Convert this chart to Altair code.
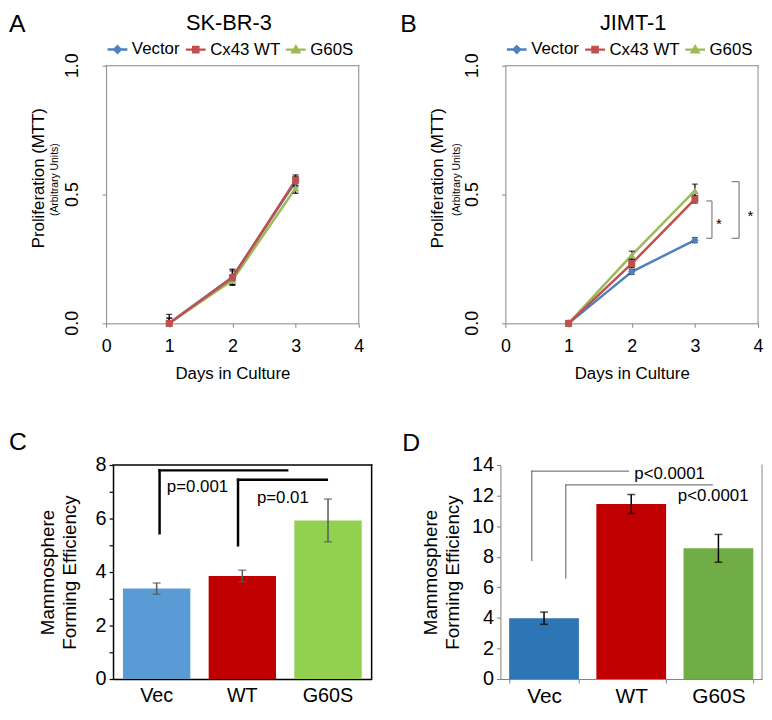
import altair as alt
import pandas as pd

FONT = "Liberation Sans"
GRAY = "#868686"

# ---------------- data ----------------
days = [1, 2, 3]
series = ["Vector", "Cx43 WT", "G60S"]
series_colors = ["#4F81BD", "#C0504D", "#9BBB59"]
marker_shapes = ["diamond", "square", "triangle-up"]
marker_sizes = [60, 50, 60]
legend_paths = [
    "M-1,0H1M0,-0.32L0.32,0L0,0.32L-0.32,0Z",
    "M-1,0H1M-0.26,-0.26H0.26V0.26H-0.26Z",
    "M-1,0H1M0,-0.32L0.34,0.26H-0.34Z",
]
draw_order = ["Vector", "G60S", "Cx43 WT"]
y_tick_values = [0.0, 0.5, 1.0]
y_tick_labels = ["0.0", "0.5", "1.0"]

# SK-BR-3 proliferation (MTT)
skbr3_vector = [0.0, 0.180, 0.550]
skbr3_wt = [0.0, 0.177, 0.556]
skbr3_g60s = [0.0, 0.167, 0.525]
skbr3_err_vector = [0.035, 0.030, 0.020]
skbr3_err_wt = [0.020, 0.027, 0.020]
skbr3_err_g60s = [0.020, 0.020, 0.020]

# JIMT-1 proliferation (MTT)
jimt_vector = [0.0, 0.200, 0.323]
jimt_wt = [0.0, 0.232, 0.482]
jimt_g60s = [0.0, 0.265, 0.515]
jimt_err_vector = [0.005, 0.010, 0.010]
jimt_err_wt = [0.005, 0.015, 0.015]
jimt_err_g60s = [0.005, 0.015, 0.025]

# JIMT-1 significance brackets
b_seg_x1 = [3.18, 3.27, 3.18, 3.58, 3.70, 3.58]
b_seg_x2 = [3.27, 3.27, 3.27, 3.70, 3.70, 3.70]
b_seg_y1 = [0.475, 0.475, 0.33, 0.55, 0.55, 0.33]
b_seg_y2 = [0.475, 0.33, 0.33, 0.55, 0.33, 0.33]
b_star_x = [3.38, 3.88]
b_star_y = [0.385, 0.417]

# Mammosphere forming efficiency
groups = ["Vec", "WT", "G60S"]
c_values = [3.38, 3.85, 5.93]
c_err = [0.21, 0.22, 0.80]
c_colors = ["#5B9BD5", "#C00000", "#92D050"]
d_values = [3.98, 11.45, 8.55]
d_err = [0.40, 0.62, 0.91]
d_colors = ["#2E75B6", "#C00000", "#70AD47"]

c_seg_x1 = [0.54, 0.54, 1.45, 1.45]
c_seg_x2 = [0.54, 2.02, 1.45, 2.48]
c_seg_y1 = [5.45, 7.80, 5.00, 7.45]
c_seg_y2 = [7.80, 7.80, 7.45, 7.45]
c_p_text = ["p=0.001", "p=0.01"]
c_p_x = [0.98, 1.97]
c_p_y = [7.17, 6.77]

d_seg_x1 = [0.36, 0.36, 0.75, 0.75]
d_seg_x2 = [0.36, 1.47, 0.75, 2.43]
d_seg_y1 = [7.75, 13.6, 6.6, 12.7]
d_seg_y2 = [13.6, 13.6, 12.7, 12.7]
d_p_text = ["p<0.0001", "p<0.0001"]
d_p_x = [1.94, 2.44]
d_p_y = [13.44, 12.0]


# ---------------- helpers ----------------
def text_layer(text, x, y, size, angle=0, align="center", baseline="alphabetic"):
    return alt.Chart(pd.DataFrame({"t": [text]})).mark_text(
        text=text, font=FONT, fontSize=size, angle=angle, align=align,
        baseline=baseline, color="black"
    ).encode(x=alt.value(x), y=alt.value(y))


def px_rule(x, x2, y, y2, color, width):
    return alt.Chart(pd.DataFrame({"t": [0]})).mark_rule(
        color=color, strokeWidth=width, strokeCap="square").encode(
        x=alt.value(x), x2=alt.value(x2), y=alt.value(y), y2=alt.value(y2))


def line_frame(vals, errs):
    rows = []
    for s in draw_order:
        i = series.index(s)
        for d, v, e in zip(days, vals[i], errs[i]):
            rows.append(dict(day=d, series=s, value=v, lo=v - e, hi=v + e))
    return pd.DataFrame(rows)


def line_panel(df, x0, title, title_x, letter, letter_x, ytitle_x, units_x,
               segs=None, stars=None):
    W, H = 255, 260
    xscale = alt.Scale(domain=[0, 4], nice=False, range=[x0, x0 + W])
    yscale = alt.Scale(domain=[0, 1], nice=False)
    x_axis = alt.Axis(values=[0, 1, 2, 3, 4], format="d", labelFontSize=18,
                      labelPadding=10, tickSize=4, tickColor=GRAY, domainColor=GRAY,
                      labelColor="black", grid=False, labelFlush=False,
                      title="Days in Culture", titleFontSize=17,
                      titleFontWeight="normal", titlePadding=11, titleColor="black")
    y_axis = alt.Axis(values=y_tick_values, labels=False, tickSize=4, tickColor=GRAY,
                      domainColor=GRAY, grid=False, title=None, offset=-x0)

    def X(f):
        return alt.X(f, type="quantitative", scale=xscale, axis=x_axis)

    def Y(f):
        return alt.Y(f, type="quantitative", scale=yscale, axis=y_axis)

    # colour scale for lines/points (listed in drawing order)
    color = alt.Color("series:N",
                      scale=alt.Scale(domain=draw_order,
                                      range=[series_colors[series.index(s)]
                                             for s in draw_order]),
                      legend=None)
    base = alt.Chart(df)
    lines = base.mark_line(strokeWidth=2.5).encode(
        x=X("day"), y=Y("value"), color=color, detail="series:N")
    err = base.mark_rule(color="black", strokeWidth=1.3, clip=True).encode(
        x=X("day"), y=Y("lo"), y2="hi:Q")
    cap_hi = base.mark_tick(color="black", orient="horizontal", size=6,
                            thickness=1.3, clip=True).encode(x=X("day"), y=Y("hi"))
    cap_lo = base.mark_tick(color="black", orient="horizontal", size=6,
                            thickness=1.3, clip=True).encode(x=X("day"), y=Y("lo"))
    pts = []
    for s in draw_order:
        i = series.index(s)
        pts.append(base.transform_filter(alt.datum.series == s).mark_point(
            shape=marker_shapes[i], filled=True, size=marker_sizes[i], opacity=1
        ).encode(x=X("day"), y=Y("value"), color=color))
    leg = alt.Legend(title=None, orient="none", legendX=x0, legendY=-28,
                     direction="horizontal", symbolSize=400, symbolStrokeWidth=2.5,
                     symbolOpacity=1, labelFontSize=17, labelFont=FONT,
                     labelColor="black", labelOffset=3, columnPadding=0, padding=0)
    legend_layer = base.mark_point(filled=True, opacity=0, size=400,
                                   strokeWidth=2.5).encode(
        x=X("day"), y=Y("value"),
        fill=alt.Fill("series:N", scale=alt.Scale(domain=series, range=series_colors),
                      legend=leg),
        stroke=alt.Stroke("series:N",
                          scale=alt.Scale(domain=series, range=series_colors),
                          legend=leg),
        shape=alt.Shape("series:N", scale=alt.Scale(domain=series, range=legend_paths),
                        legend=leg))
    # rotated y tick labels, positioned through the y scale
    tdf = pd.DataFrame({"v": y_tick_values, "lab": y_tick_labels})
    ticklabels = alt.Chart(tdf).mark_text(
        font=FONT, fontSize=18, angle=270, align="center", baseline="middle",
        color="black").encode(x=alt.value(x0 - 33), y=Y("v"), text="lab:N")
    layers = [lines, err, cap_hi, cap_lo] + pts + [legend_layer, ticklabels]
    if segs is not None:
        sdf = pd.DataFrame({"x1": segs[0], "x2": segs[1], "y1": segs[2], "y2": segs[3]})
        layers.append(alt.Chart(sdf).mark_rule(color="#7F7F7F", strokeWidth=1.2).encode(
            x=X("x1"), x2="x2:Q", y=Y("y1"), y2="y2:Q"))
    if stars is not None:
        stdf = pd.DataFrame({"x": stars[0], "y": stars[1]})
        layers.append(alt.Chart(stdf).mark_text(text="*", font=FONT, fontSize=15,
                                                color="black", baseline="middle").encode(
            x=X("x"), y=Y("y")))
    layers += [
        px_rule(x0, x0 + W, 0, 0, GRAY, 1),
        px_rule(x0 + W, x0 + W, 0, H, GRAY, 1),
        text_layer(title, title_x, -53, 22, baseline="top"),
        text_layer(letter, letter_x, -54, 25, align="left", baseline="top"),
        text_layer("Proliferation (MTT)", ytitle_x, 113.5, 17, angle=270,
                   baseline="middle"),
        text_layer("(Arbitrary Units)", units_x, 115, 10.5, angle=270,
                   baseline="middle"),
    ]
    return alt.layer(*layers).properties(width=x0 + W, height=H)


def bar_panel(values, errs, colors, x0, W, H, ymax, ystep, minor, pad_in, pad_out,
              segs, p_text, p_x, p_y, seg_color, seg_width, err_color, letter,
              letter_x, letter_y, axis_color, label_size, x_ticks, frame, title_pad):
    df = pd.DataFrame({"group": groups, "value": values,
                       "lo": [v - e for v, e in zip(values, errs)],
                       "hi": [v + e for v, e in zip(values, errs)]})
    yscale = alt.Scale(domain=[0, ymax], nice=False)
    xband = alt.Scale(domain=groups, paddingInner=pad_in, paddingOuter=pad_out,
                      range=[x0, x0 + W])
    common_y = dict(labelFontSize=20, tickSize=4, tickColor=axis_color,
                    domainColor=axis_color, labelPadding=3, labelColor="black",
                    grid=False, title=["Mammosphere", "Forming Efficiency"],
                    titleFontSize=19, titleFontWeight="normal", titleLineHeight=22,
                    titlePadding=title_pad, titleColor="black", offset=-x0)
    if minor:
        y_axis = alt.Axis(values=list(range(0, ymax + 1)),
                          labelExpr="datum.value % 2 === 0 ? datum.label : ''",
                          domainWidth=1.5, tickWidth=1.2, **common_y)
    else:
        y_axis = alt.Axis(values=list(range(0, ymax + 1, ystep)), **common_y)
    if x_ticks:
        x_axis = alt.Axis(labelAngle=0, labelFontSize=label_size, tickBand="extent",
                          tickSize=4, tickColor=axis_color, domainColor=axis_color,
                          labelPadding=3, labelColor="black", title=None)
    else:
        x_axis = alt.Axis(labelAngle=0, labelFontSize=label_size, ticks=False,
                          domainColor=axis_color, domainWidth=1.5, labelPadding=7,
                          labelColor="black", title=None)

    def Y(f):
        return alt.Y(f, type="quantitative", scale=yscale, axis=y_axis)

    xe = alt.X("group:N", sort=groups, scale=xband, axis=x_axis)
    base = alt.Chart(df)
    bars = base.mark_bar().encode(
        x=xe, y=Y("value"),
        color=alt.Color("group:N", scale=alt.Scale(domain=groups, range=colors),
                        legend=None))
    err = base.mark_rule(color=err_color, strokeWidth=1.5).encode(
        x=xe, y=Y("lo"), y2="hi:Q")
    cap_hi = base.mark_tick(color=err_color, orient="horizontal", size=8,
                            thickness=1.5).encode(x=xe, y=Y("hi"))
    cap_lo = base.mark_tick(color=err_color, orient="horizontal", size=8,
                            thickness=1.5).encode(x=xe, y=Y("lo"))
    inner = alt.layer(bars, err, cap_hi, cap_lo)

    xa = alt.Scale(domain=[0, 3], nice=False, range=[x0, x0 + W])
    sdf = pd.DataFrame({"x1": segs[0], "x2": segs[1], "y1": segs[2], "y2": segs[3]})
    brackets = alt.Chart(sdf).mark_rule(color=seg_color, strokeWidth=seg_width,
                                        strokeCap="square").encode(
        x=alt.X("x1:Q", scale=xa, axis=None), x2="x2:Q", y=Y("y1"), y2="y2:Q")
    pdf = pd.DataFrame({"t": p_text, "x": p_x, "y": p_y})
    ptext = alt.Chart(pdf).mark_text(font=FONT, fontSize=17, color="black",
                                     baseline="middle").encode(
        x=alt.X("x:Q", scale=xa, axis=None), y=Y("y"), text="t:N")
    layers = [inner, brackets, ptext,
              text_layer(letter, letter_x, letter_y, 25, align="left")]
    if frame:
        layers += [px_rule(x0, x0 + W, 0, 0, "black", 1.5),
                   px_rule(x0 + W, x0 + W, 0, H, "black", 1.5)]
    else:
        layers += [px_rule(x0 + W, x0 + W, 0, H, GRAY, 1)]
    return alt.layer(*layers).resolve_scale(x="independent").properties(
        width=x0 + W, height=H)


# ---------------- panels ----------------
dfA = line_frame([skbr3_vector, skbr3_wt, skbr3_g60s],
                 [skbr3_err_vector, skbr3_err_wt, skbr3_err_g60s])
dfB = line_frame([jimt_vector, jimt_wt, jimt_g60s],
                 [jimt_err_vector, jimt_err_wt, jimt_err_g60s])

A = line_panel(dfA, 0, "SK-BR-3", 124, "A", -98, -67.5, -51.5)
B = line_panel(dfB, 5, "JIMT-1", 134, "B", -101, -63, -44,
               segs=[b_seg_x1, b_seg_x2, b_seg_y1, b_seg_y2],
               stars=[b_star_x, b_star_y])

C = bar_panel(c_values, c_err, c_colors, 7, 261, 216, 8, 1, True, 0.214, 0.116,
              [c_seg_x1, c_seg_x2, c_seg_y1, c_seg_y2], c_p_text, c_p_x, c_p_y,
              "black", 2.5, "#595959", "C", -98, -15, "black", 20, False, True, 16)
D = bar_panel(d_values, d_err, d_colors, 0, 264, 216, 14, 2, False, 0.2, 0.1,
              [d_seg_x1, d_seg_x2, d_seg_y1, d_seg_y2], d_p_text, d_p_x, d_p_y,
              "#595959", 1, "black", "D", -99, -14, "#7F7F7F", 21, True, False, 9)

chart = alt.concat(
    A, B, C, D, columns=2, align="each",
    spacing={"row": 47, "column": 26},
).resolve_scale(
    color="independent", fill="independent", stroke="independent",
    shape="independent"
).resolve_legend(
    fill="independent", stroke="independent", shape="independent"
).properties(
    padding=0
).configure(
    background="white"
).configure_view(
    stroke="transparent"
).configure_axis(
    labelFont=FONT, titleFont=FONT
).configure_legend(
    labelFont=FONT
).configure_text(
    font=FONT
)

chart.save("out.html", embed_options={"renderer": "svg", "actions": False})
